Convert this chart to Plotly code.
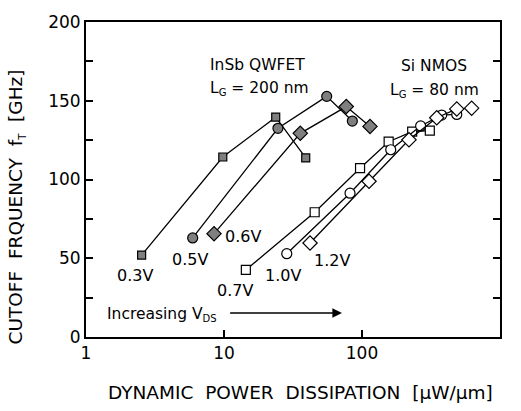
import math
import plotly.graph_objects as go

# InSb QWFET (LG = 200 nm)
insb_03_x = [2.53, 9.8, 23.7, 39.1]
insb_03_y = [52, 114.3, 139.6, 113.7]
insb_05_x = [5.93, 24.6, 55.5, 85.1]
insb_05_y = [62.9, 132.5, 152.8, 137.1]
insb_06_x = [8.47, 35.7, 76.9, 114.3]
insb_06_y = [65.6, 129.3, 146.3, 133.7]
# Si NMOS (LG = 80 nm)
si_07_x = [14.4, 45.4, 96.8, 156, 231, 310]
si_07_y = [42.6, 79.2, 107.2, 124, 130.4, 131]
si_10_x = [28.5, 81.9, 161.5, 266, 378, 486]
si_10_y = [52.9, 91.3, 118.9, 134, 140.9, 141.3]
si_12_x = [42, 112.4, 219, 348, 486, 623]
si_12_y = [59.7, 98.9, 125.2, 139.2, 144.8, 145.3]

x_ticks = [1, 10, 100, 1000]
y_ticks = [0, 50, 100, 150, 200]

FONT = "DejaVu Sans"
GREY = "#7f7f7f"
NB = "\u00a0"

fig = go.Figure()

def add(xs, ys, symbol, fill, size):
    fig.add_trace(go.Scatter(
        x=xs, y=ys, mode="lines+markers",
        line=dict(color="black", width=1.3),
        marker=dict(symbol=symbol, size=size, color=fill,
                    line=dict(color="black", width=1.2)),
        showlegend=False, cliponaxis=False))

add(insb_03_x, insb_03_y, "square", GREY, 8)
add(insb_05_x, insb_05_y, "circle", GREY, 10)
add(insb_06_x, insb_06_y, "diamond", GREY, 11)
add(si_07_x, si_07_y, "square", "white", 9)
add(si_10_x, si_10_y, "circle", "white", 10)
add(si_12_x, si_12_y, "diamond", "white", 11)

ann = []
def txt(x, y, s, xanchor="center", size=16):
    ann.append(dict(x=math.log10(x), y=y, xref="x", yref="y", text=s,
                    showarrow=False, xanchor=xanchor, yanchor="middle",
                    font=dict(family=FONT, size=size, color="black")))

SUB = lambda s: "<sub><span style='font-size:10px'>" + s + "</span></sub>"

txt(7.6, 172.4, "InSb QWFET", "left", 15.5)
txt(7.6, 158, "L" + SUB("G") + " = 200 nm", "left", 15.5)
txt(10 ** 2.522, 171.8, "Si NMOS", size=15.5)
txt(10 ** 2.522, 156.5, "L" + SUB("G") + " = 80 nm", size=15.5)
txt(10 ** 0.355, 38.9, "0.3V")
txt(10 ** 0.754, 49.5, "0.5V")
txt(10 ** 1.138, 64, "0.6V")
txt(10 ** 1.080, 29.5, "0.7V")
txt(10 ** 1.428, 38.9, "1.0V")
txt(10 ** 1.783, 48.3, "1.2V")
txt(10 ** 0.138, 14, "Increasing V" + SUB("DS"), "left", 15.5)

ann.append(dict(x=math.log10(71.6), y=15.2, ax=math.log10(10.8), ay=15.2,
                xref="x", yref="y", axref="x", ayref="y", text="",
                showarrow=True, arrowhead=2, arrowsize=1.2, arrowwidth=1.6,
                arrowcolor="black"))

ann.append(dict(x=-0.167, y=0.414, xref="paper", yref="paper",
                text="CUTOFF" + NB * 2 + "FRQUENCY" + NB * 2 + "f" + SUB("T")
                     + NB * 2 + "[GHz]",
                textangle=-90,
                showarrow=False, xanchor="center", yanchor="middle",
                font=dict(family=FONT, size=18.5, color="black")))
ann.append(dict(x=0.517, y=-0.1755, xref="paper", yref="paper",
                text="DYNAMIC" + NB * 2 + "POWER" + NB * 2 + "DISSIPATION"
                     + NB * 2 + "[\u03bcW/\u03bcm]",
                showarrow=False, xanchor="center", yanchor="middle",
                font=dict(family=FONT, size=18.5, color="black")))

fig.update_layout(
    width=521, height=411,
    margin=dict(l=86, r=21, t=18, b=74),
    paper_bgcolor="white", plot_bgcolor="white",
    font=dict(family=FONT, size=16, color="black"),
    annotations=ann,
    xaxis=dict(type="log", range=[0, 3], tickvals=x_ticks,
               ticktext=[str(v) for v in x_ticks],
               ticks="inside", ticklen=7, tickwidth=1.5, tickcolor="black",
               showline=True, linecolor="black", linewidth=2, mirror=True,
               showgrid=False, zeroline=False,
               tickfont=dict(family=FONT, size=17)),
    yaxis=dict(range=[0, 200], tickvals=y_ticks,
               ticks="inside", ticklen=7, tickwidth=1.5, tickcolor="black",
               minor=dict(tickvals=[25, 75, 125, 175], ticks="inside",
                          ticklen=7, tickwidth=1.5, tickcolor="black"),
               showline=True, linecolor="black", linewidth=2, mirror="ticks",
               showgrid=False, zeroline=False,
               tickfont=dict(family=FONT, size=17)),
)

fig.write_html("out.html")
